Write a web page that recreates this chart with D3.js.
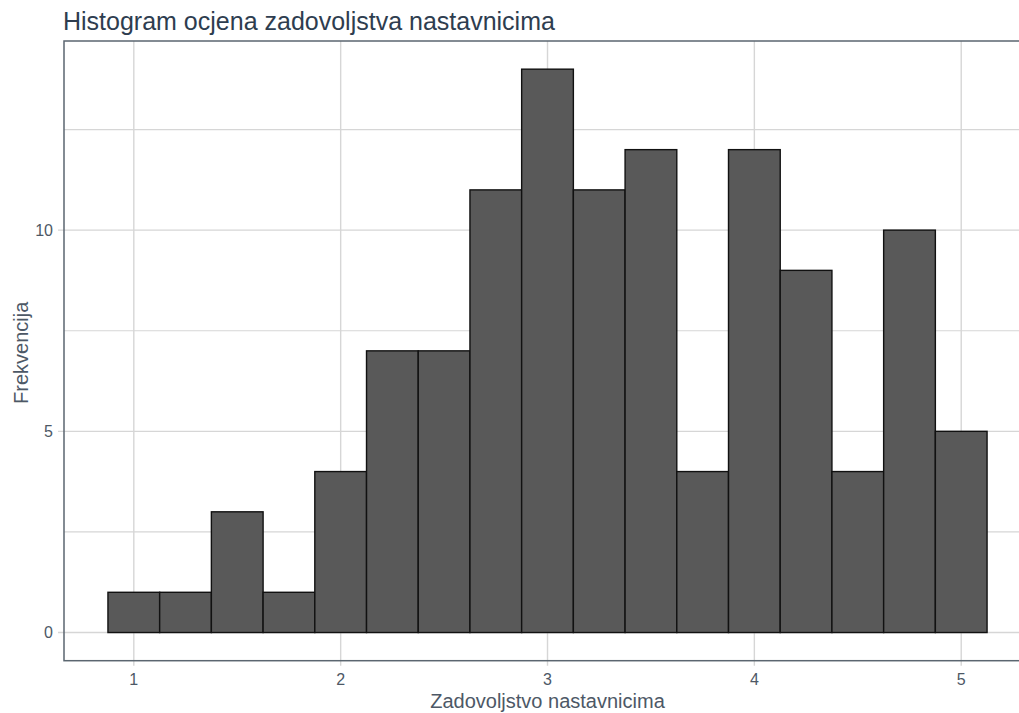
<!DOCTYPE html>
<html><head><meta charset="utf-8">
<script src="https://cdn.jsdelivr.net/npm/d3@7"></script>
<style>body{margin:0;background:#fff}</style>
</head><body>
<svg id="c" width="1019" height="713"></svg>
<script>
const binStarts = [0.875,1.125,1.375,1.625,1.875,2.125,2.375,2.625,2.875,3.125,3.375,3.625,3.875,4.125,4.375,4.625,4.875];
const counts = [1,1,3,1,4,7,7,11,14,11,12,4,12,9,4,10,5];
const binWidth = 0.25;
const xTicks = [1,2,3,4,5];
const yTicks = [0,5,10];
const yMinor = [2.5,7.5,12.5];

(function(){
const svg = d3.select("#c");
const pLeft = 64, pTop = 41, pBottom = 660.7;
const xmin = 0.875 - 0.2125, xmax = 5.125 + 0.2125;
const x = d3.scaleLinear().domain([xmin, xmax]).range([pLeft, pLeft + (xmax - xmin) * 206.85]);
const y = d3.scaleLinear().domain([-0.7, 14.7]).range([pBottom, pTop]);
const pRight = x(xmax);

const g = svg.append("g");
const gridColor = "#d6d6d6";
g.selectAll(".ym").data(yMinor).join("line")
  .attr("x1", pLeft).attr("x2", pRight).attr("y1", d => y(d)).attr("y2", d => y(d))
  .attr("stroke", gridColor).attr("stroke-width", 1.2);
g.selectAll(".yg").data(yTicks).join("line")
  .attr("x1", pLeft - 6).attr("x2", pRight).attr("y1", d => y(d)).attr("y2", d => y(d))
  .attr("stroke", gridColor).attr("stroke-width", 1.4);
g.selectAll(".xg").data(xTicks).join("line")
  .attr("y1", pTop).attr("y2", pBottom + 5).attr("x1", d => x(d)).attr("x2", d => x(d))
  .attr("stroke", gridColor).attr("stroke-width", 1.4);

g.selectAll(".bar").data(counts).join("rect")
  .attr("x", (d, i) => x(binStarts[i]))
  .attr("width", (d, i) => x(binStarts[i] + binWidth) - x(binStarts[i]))
  .attr("y", d => y(d))
  .attr("height", d => y(0) - y(d))
  .attr("fill", "#595959").attr("stroke", "#111").attr("stroke-width", 1.4);

g.append("rect").attr("x", pLeft).attr("y", pTop).attr("width", pRight - pLeft).attr("height", pBottom - pTop)
  .attr("fill", "none").attr("stroke", "#5b6670").attr("stroke-width", 1.5);

const font = "Liberation Sans, Arial, sans-serif";
g.selectAll(".xl").data(xTicks).join("text")
  .attr("x", d => x(d)).attr("y", 685).attr("text-anchor", "middle")
  .attr("font-family", font).attr("font-size", 16).attr("fill", "#4d5866").text(d => d);
g.selectAll(".yl").data(yTicks).join("text")
  .attr("x", 53).attr("y", d => y(d) + 5.5).attr("text-anchor", "end")
  .attr("font-family", font).attr("font-size", 16).attr("fill", "#4d5866").text(d => d);

svg.append("text").attr("x", x(3)).attr("y", 708).attr("text-anchor", "middle")
  .attr("font-family", font).attr("font-size", 20).attr("fill", "#4d5866").text("Zadovoljstvo nastavnicima");
svg.append("text").attr("transform", `translate(28,${(pTop + pBottom) / 2 + 2}) rotate(-90)`).attr("text-anchor", "middle")
  .attr("font-family", font).attr("font-size", 20).attr("fill", "#4d5866").text("Frekvencija");

svg.append("text").attr("x", 63).attr("y", 30)
  .attr("font-family", font).attr("font-size", 25).attr("fill", "#2e3d4f").text("Histogram ocjena zadovoljstva nastavnicima");
})();
</script>
</body></html>
